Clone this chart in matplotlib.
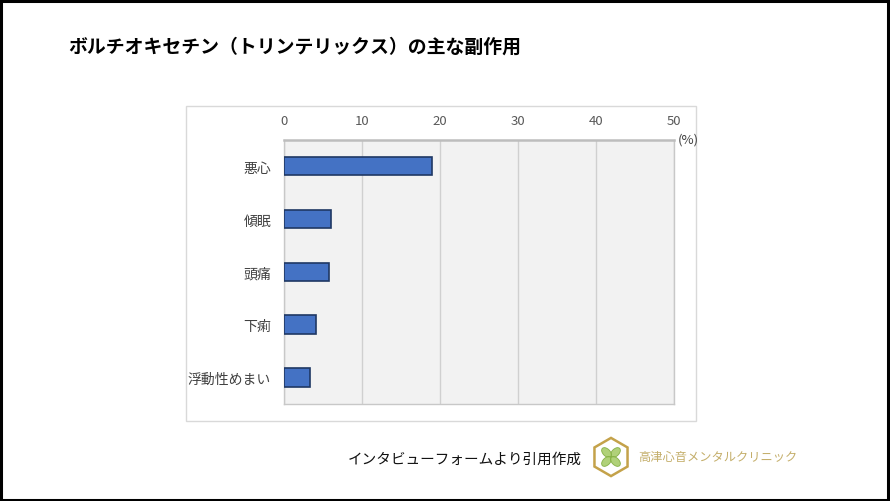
import numpy as np
import matplotlib.pyplot as plt
from matplotlib.patches import Rectangle, RegularPolygon, Ellipse

plt.rcParams['font.family'] = ['Noto Sans CJK JP', 'DejaVu Sans']

# data (%)
categories = ["悪心", "傾眠", "頭痛", "下痢", "浮動性めまい"]
rates = [19.0, 6.0, 5.8, 4.1, 3.4]
xticks = [0, 10, 20, 30, 40, 50]

title = "ボルチオキセチン（トリンテリックス）の主な副作用"
source = "インタビューフォームより引用作成"
clinic = "高津心音メンタルクリニック"

W, H = 890, 502
fig = plt.figure(figsize=(W / 100, H / 100), dpi=100)
fig.patch.set_facecolor("white")

# outer black frame
fig.patches.append(Rectangle((0.001, 0.002), 0.997, 0.995, transform=fig.transFigure,
                             fill=False, edgecolor="black", linewidth=2.2))
# chart area box
fig.patches.append(Rectangle((186 / W, 1 - 422 / H), 510 / W, 315 / H, transform=fig.transFigure,
                             fill=False, edgecolor="#D9D9D9", linewidth=1.0))

ax = fig.add_axes([283.7 / W, 1 - 405 / H, 390 / W, 264.3 / H])
ax.set_facecolor("#F2F2F2")
y = np.arange(len(categories))
ax.barh(y, rates, height=0.35, color="#4472C4", edgecolor="#1F3864", linewidth=1.2, zorder=3)
ax.set_ylim(len(categories) - 0.5, -0.5)
ax.set_xlim(0, 50)
ax.set_xticks(xticks)
ax.xaxis.tick_top()
ax.tick_params(axis="x", length=0, pad=9, labelsize=9.5, labelcolor="#595959")
ax.set_yticks(y)
ax.set_yticklabels(categories)
ax.tick_params(axis="y", length=0, pad=9, labelsize=10, labelcolor="#404040")
ax.grid(axis="x", color="#D0D0D0", linewidth=1.0, zorder=0)
for s in ["left", "right", "bottom"]:
    ax.spines[s].set_color("#C8C8C8")
    ax.spines[s].set_linewidth(1.0)
ax.spines["top"].set_color("#BDBDBD")
ax.spines["top"].set_linewidth(1.8)

fig.text(678 / W, 1 - 140 / H, "(%)", fontsize=9.5, color="#404040", ha="left", va="center")

fig.text(68 / W, 1 - 47 / H, title, fontsize=13.6, fontweight="bold", ha="left", va="center")
fig.text(348 / W, 1 - 460 / H, source, fontsize=10.5, color="#111111", ha="left", va="center")

# clinic logo
lax = fig.add_axes([590 / W, 1 - 480 / H, 42 / W, 44 / H])
lax.set_xlim(-1.1, 1.1)
lax.set_ylim(-1.1, 1.1)
lax.set_aspect("equal")
lax.axis("off")
lax.add_patch(RegularPolygon((0, 0), 6, radius=1.0, orientation=0, fill=False,
                             edgecolor="#C4A24A", linewidth=1.8))
for ang in [45, 135, 225, 315]:
    r = np.deg2rad(ang)
    lax.add_patch(Ellipse((0.33 * np.cos(r), 0.33 * np.sin(r)), 0.62, 0.38, angle=ang,
                          facecolor="#A8CC6A", edgecolor="#7DAA3A", linewidth=0.6, alpha=0.9))
fig.text(638 / W, 1 - 458 / H, clinic, fontsize=8.8, color="#C4AE6A", ha="left", va="center")

fig.savefig("out.png", dpi=100)
